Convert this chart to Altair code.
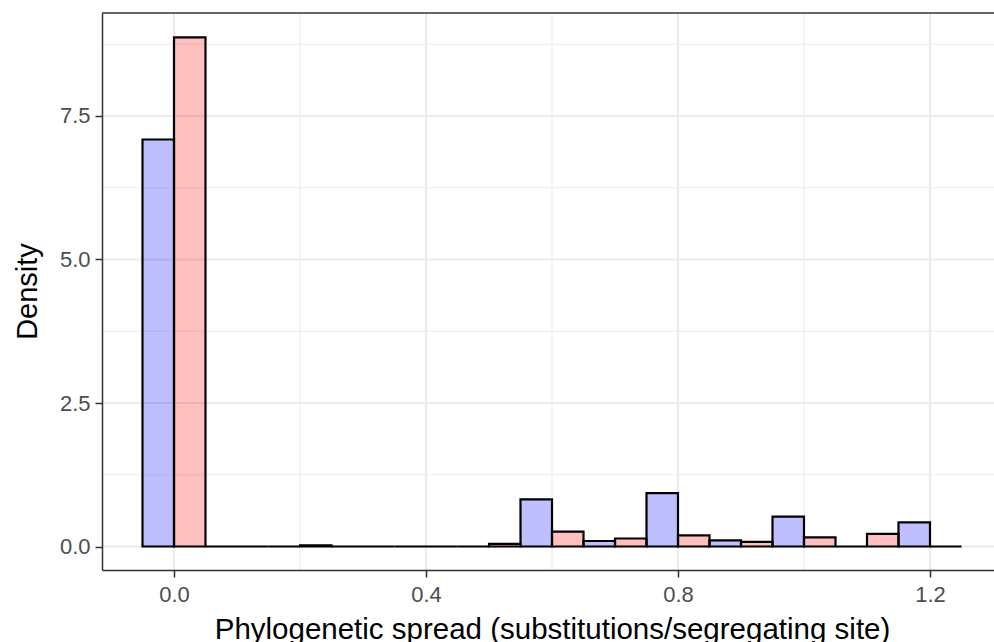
import altair as alt
import pandas as pd

# Histogram data (density), bins of width 0.1 centred on these values, dodged
bin_centers = [0.0, 0.1, 0.2, 0.3, 0.4, 0.5, 0.6, 0.7, 0.8, 0.9, 1.0, 1.1, 1.2]
blue_density = [7.09, 0.0, 0.0, 0.0, 0.0, 0.0, 0.82, 0.096, 0.93, 0.108, 0.52, 0.0, 0.42]
red_density = [8.87, 0.0, 0.02, 0.0, 0.0, 0.045, 0.26, 0.14, 0.195, 0.08, 0.16, 0.22, 0.0]
group_names = ["blue", "red"]
group_colors = ["#0000FF", "#FF0000"]
binwidth = 0.1

x_major = [0.0, 0.4, 0.8, 1.2]
x_minor = [0.2, 0.6, 1.0]
y_major = [0.0, 2.5, 5.0, 7.5]
y_minor = [1.25, 3.75, 6.25, 8.75]

rows = []
for c, b, r in zip(bin_centers, blue_density, red_density):
    rows.append({"group": "blue", "x0": c - binwidth / 2, "x1": c, "density": b, "base": 0.0})
    rows.append({"group": "red", "x0": c, "x1": c + binwidth / 2, "density": r, "base": 0.0})
bars_df = pd.DataFrame(rows)

W, H = 892, 557
FONT = "Liberation Sans"
xscale = alt.Scale(domain=[-0.11429, 1.30159], nice=False, zero=False)
yscale = alt.Scale(domain=[-0.409, 9.294], nice=False, zero=False)

xaxis = alt.Axis(values=x_major, format=".1f", grid=False, zindex=1,
                 tickSize=7, tickWidth=1.5, tickColor="#333333",
                 domainColor="#333333", domainWidth=1.5,
                 labelFont=FONT, labelFontSize=22, labelColor="#4D4D4D", labelPadding=7,
                 title="Phylogenetic spread (substitutions/segregating site)",
                 titleFont=FONT, titleFontSize=29.5, titleFontWeight="normal", titleColor="black",
                 titleBaseline="alphabetic", titleAlign="center", titleX=450, titleY=68)
yaxis = alt.Axis(values=y_major, format=".1f", grid=False, zindex=1,
                 tickSize=7, tickWidth=1.5, tickColor="#333333",
                 domainColor="#333333", domainWidth=1.5,
                 labelFont=FONT, labelFontSize=22, labelColor="#4D4D4D", labelPadding=5,
                 title="Density",
                 titleFont=FONT, titleFontSize=29, titleFontWeight="normal", titleColor="black",
                 titleAngle=270, titleBaseline="alphabetic", titleAlign="center",
                 titleX=-66, titleY=278)

gx_major = alt.Chart(pd.DataFrame({"v": x_major})).mark_rule(color="#EBEBEB", strokeWidth=2.2).encode(
    x=alt.X("v:Q", scale=xscale, axis=xaxis))
gx_minor = alt.Chart(pd.DataFrame({"v": x_minor})).mark_rule(color="#EBEBEB", strokeWidth=1.1).encode(
    x=alt.X("v:Q", scale=xscale, axis=xaxis))
gy_major = alt.Chart(pd.DataFrame({"v": y_major})).mark_rule(color="#EBEBEB", strokeWidth=2.2).encode(
    y=alt.Y("v:Q", scale=yscale, axis=yaxis))
gy_minor = alt.Chart(pd.DataFrame({"v": y_minor})).mark_rule(color="#EBEBEB", strokeWidth=1.1).encode(
    y=alt.Y("v:Q", scale=yscale, axis=yaxis))

bars = alt.Chart(bars_df).mark_rect(stroke="black", strokeWidth=2.2, fillOpacity=0.25).encode(
    x=alt.X("x0:Q", scale=xscale, axis=xaxis),
    x2="x1:Q",
    y=alt.Y("density:Q", scale=yscale, axis=yaxis),
    y2="base:Q",
    fill=alt.Fill("group:N", scale=alt.Scale(domain=group_names, range=group_colors), legend=None),
)

top_border = alt.Chart(pd.DataFrame({"v": [0]})).mark_rule(color="#333333", strokeWidth=1.5).encode(
    x=alt.value(0), x2=alt.value(W), y=alt.value(0))

chart = alt.layer(gx_minor, gy_minor, gx_major, gy_major, bars, top_border).properties(
    width=W, height=H,
    autosize=alt.AutoSizeParams(type="none"),
    padding={"left": 102, "top": 13, "right": 0, "bottom": 72},
    background="white",
).configure_view(stroke=None)

chart.save("out.html", embed_options={"renderer": "svg", "actions": False})
